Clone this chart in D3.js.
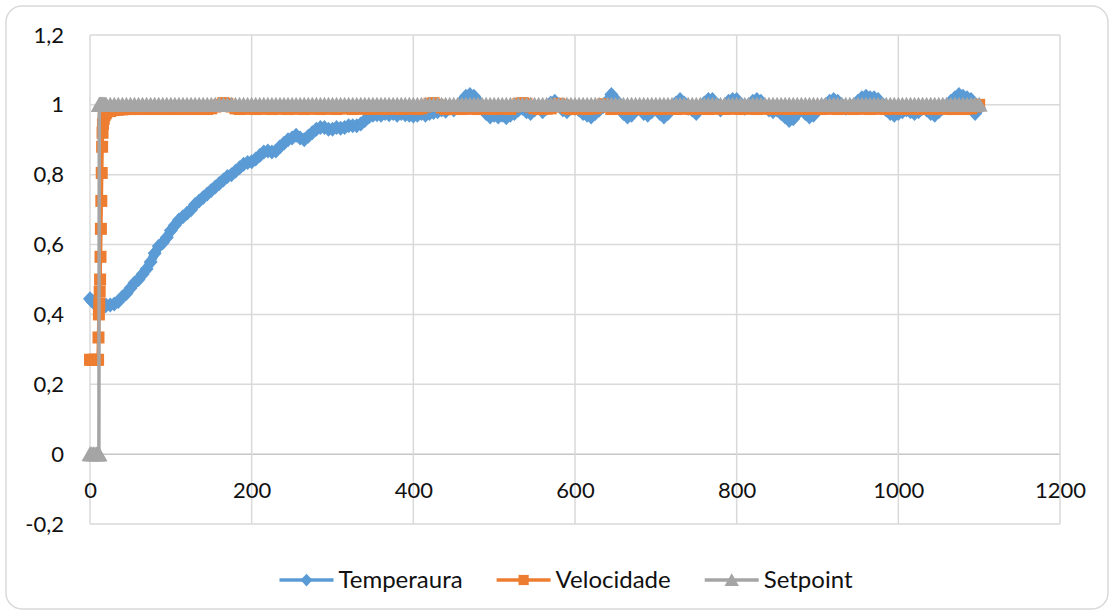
<!DOCTYPE html>
<html>
<head>
<meta charset="utf-8">
<script src="https://cdn.jsdelivr.net/npm/d3@7"></script>
<style>
  body { margin: 0; background: #fff; }
  text { font-family: Lato, "Open Sans", sans-serif; fill: #111; }
</style>
</head>
<body>
<div id="chart"></div>
<script>
// sample times: dense during the start-up transient, then every 5
const xEarly = [0,2,4,6,8,10,10.5,11,11.5,12,12.5,13,13.5,14,14.5,15,15.5,16,17,18,19,20];
const xs = xEarly.concat(d3.range(25, 1105, 5));

const temperaura = [
  0.445,0.44,0.435,0.432,0.43,0.428,0.428,0.427,0.427,0.426,0.426,0.425,0.425,0.425,0.425,0.425,0.425,0.425,0.425,0.425,0.425,0.426,
  0.427,0.43,0.437,0.45,0.46,0.475,0.49,0.50,0.515,0.53,
  0.55,0.575,0.595,0.605,0.62,0.64,0.655,0.67,0.68,0.69,
  0.70,0.715,0.725,0.735,0.745,0.755,0.765,0.775,0.785,0.795,
  0.80,0.81,0.82,0.83,0.835,0.837,0.845,0.855,0.865,0.868,
  0.865,0.868,0.88,0.89,0.90,0.905,0.913,0.905,0.90,0.91,
  0.92,0.93,0.935,0.935,0.93,0.93,0.935,0.933,0.935,0.94,
  0.94,0.94,0.945,0.955,0.965,0.97,0.972,0.97,0.975,0.972,
  0.975,0.97,0.975,0.972,0.97,0.968,0.97,0.975,0.97,0.975,
  0.978,0.98,0.985,0.982,0.99,0.985,0.995,1.01,1.025,1.03,
  1.025,1.01,0.99,0.975,0.965,0.97,0.965,0.97,0.963,0.97,
  0.975,0.985,0.99,0.98,0.975,0.985,0.995,0.98,0.99,1.005,
  1.01,1.0,0.985,0.98,0.99,0.99,0.985,0.975,0.97,0.965,
  0.975,0.985,0.995,1.01,1.03,1.015,0.99,0.975,0.965,0.97,
  0.985,0.99,0.975,0.97,0.98,0.995,0.975,0.965,0.975,0.99,
  1.005,1.015,1.005,0.99,0.985,0.975,0.99,1.005,1.015,1.015,
  1.0,0.985,0.995,1.01,1.015,1.015,1.0,0.99,1.0,1.01,
  1.015,1.01,0.995,0.985,0.98,0.985,0.975,0.965,0.955,0.96,
  0.975,0.99,0.975,0.965,0.97,0.985,0.995,1.0,1.01,1.015,
  1.01,1.0,0.99,0.995,1.0,1.01,1.02,1.025,1.02,1.02,
  1.015,1.0,0.985,0.975,0.97,0.975,0.98,0.985,0.98,0.975,
  0.98,0.99,0.985,0.975,0.97,0.98,0.99,1.0,1.01,1.02,
  1.03,1.025,1.02,1.015,0.975,0.99
];

const velocidade = [
  0.27,0.27,0.27,0.27,0.27,0.27,0.334,0.40,0.43,0.465,0.50,0.565,0.645,0.725,0.805,0.88,0.92,0.945,0.96,0.97,0.975,0.978,
  0.982,0.985,0.986,0.987,0.988,0.988,0.989,0.988,0.99,0.988,
  0.989,0.99,0.988,0.989,0.99,0.988,0.99,0.989,0.988,0.99,
  0.99,0.988,0.989,0.99,0.988,0.99,0.995,1.0,1.005,1.003,
  0.995,0.99,0.988,0.99,0.989,0.99,0.988,0.99,0.989,0.99,
  0.988,0.99,0.989,0.99,0.988,0.99,0.989,0.99,0.988,0.99,
  0.99,0.989,0.988,0.99,0.989,0.99,0.988,0.99,0.995,0.99,
  0.988,0.99,0.989,0.99,0.988,0.99,0.989,0.99,0.988,0.99,
  0.99,0.989,0.988,0.99,0.989,0.99,0.988,0.99,0.995,1.003,
  1.005,1.0,0.992,0.988,0.99,0.989,0.99,0.988,0.99,0.989,
  0.99,0.988,0.99,0.989,0.99,0.988,0.99,0.989,0.99,0.988,
  0.995,1.003,1.005,1.003,0.995,0.99,0.988,0.99,0.989,0.99,
  0.995,1.003,1.0,0.99,0.988,0.99,0.989,0.99,0.988,0.99,
  0.99,0.995,1.002,0.995,0.988,0.99,0.989,0.99,0.988,0.99,
  0.99,0.989,0.988,0.99,0.989,0.99,0.988,0.99,0.989,0.99,
  0.988,0.99,0.989,0.99,0.988,0.99,0.989,0.99,0.988,0.99,
  0.99,0.989,0.988,0.99,0.989,0.99,0.988,0.99,0.989,0.99,
  0.988,0.99,0.989,0.99,0.988,0.99,0.989,0.99,0.988,0.99,
  0.99,0.989,0.988,0.99,0.989,0.99,0.988,0.99,0.989,0.99,
  0.988,0.99,0.989,0.99,0.988,0.99,0.989,0.99,0.988,0.99,
  0.99,0.989,0.988,0.99,0.989,0.99,0.988,0.99,0.989,0.99,
  0.988,0.99,0.989,0.99,0.988,0.99,0.989,0.99,0.988,0.99,
  0.99,0.988,0.989,0.99,0.995,1.0
];

const setpoint = [
  0,0,0,0,0,0,0,0,1,1,1,1,1,1,1,1,1,1,1,1,1,1,
  1,1,1,1,1,1,1,1,1,1,
  1,1,1,1,1,1,1,1,1,1,
  1,1,1,1,1,1,1,1,1,1,
  1,1,1,1,1,1,1,1,1,1,
  1,1,1,1,1,1,1,1,1,1,
  1,1,1,1,1,1,1,1,1,1,
  1,1,1,1,1,1,1,1,1,1,
  1,1,1,1,1,1,1,1,1,1,
  1,1,1,1,1,1,1,1,1,1,
  1,1,1,1,1,1,1,1,1,1,
  1,1,1,1,1,1,1,1,1,1,
  1,1,1,1,1,1,1,1,1,1,
  1,1,1,1,1,1,1,1,1,1,
  1,1,1,1,1,1,1,1,1,1,
  1,1,1,1,1,1,1,1,1,1,
  1,1,1,1,1,1,1,1,1,1,
  1,1,1,1,1,1,1,1,1,1,
  1,1,1,1,1,1,1,1,1,1,
  1,1,1,1,1,1,1,1,1,1,
  1,1,1,1,1,1,1,1,1,1,
  1,1,1,1,1,1,1,1,1,1,
  1,1,1,1,1,1
];

const seriesNames = ["Temperaura", "Velocidade", "Setpoint"];
const seriesColors = ["#5b9bd5", "#ed7d31", "#a5a5a5"];
const seriesShapes = ["diamond", "square", "triangle"];

const xTicks = [0, 200, 400, 600, 800, 1000, 1200];
const yTicks = [-0.2, 0, 0.2, 0.4, 0.6, 0.8, 1, 1.2];
const yTickLabels = ["-0,2", "0", "0,2", "0,4", "0,6", "0,8", "1", "1,2"];

const width = 1112, height = 614;
const plot = { left: 90, right: 1060, top: 35, bottom: 524 };

const svg = d3.select("#chart").append("svg")
  .attr("width", width)
  .attr("height", height);

// chart border
svg.append("rect")
  .attr("x", 6).attr("y", 6)
  .attr("width", 1102).attr("height", 603)
  .attr("rx", 16)
  .attr("fill", "#fff")
  .attr("stroke", "#d9d9d9")
  .attr("stroke-width", 1.5);

const xScale = d3.scaleLinear().domain([0, 1200]).range([plot.left, plot.right]);
const yScale = d3.scaleLinear().domain([-0.2, 1.2]).range([plot.bottom, plot.top]);

// gridlines
svg.append("g").selectAll("line").data(yTicks).enter().append("line")
  .attr("x1", plot.left).attr("x2", plot.right)
  .attr("y1", d => yScale(d)).attr("y2", d => yScale(d))
  .attr("stroke", d => d === 0 ? "#c6c6c6" : "#d9d9d9")
  .attr("stroke-width", 1.5);

svg.append("g").selectAll("line").data(xTicks).enter().append("line")
  .attr("x1", d => xScale(d)).attr("x2", d => xScale(d))
  .attr("y1", plot.top).attr("y2", plot.bottom)
  .attr("stroke", "#d9d9d9")
  .attr("stroke-width", 1.5);

// axes (labels only)
const xAxis = d3.axisBottom(xScale).tickValues(xTicks).tickSize(0).tickPadding(28)
  .tickFormat(d3.format("d"));
svg.append("g")
  .attr("transform", `translate(0,${yScale(0)})`)
  .call(xAxis)
  .call(g => g.select(".domain").remove())
  .selectAll("text")
  .attr("font-size", 22)
  .attr("font-family", "Lato, sans-serif")
  .attr("fill", "#111");

const yAxis = d3.axisLeft(yScale).tickValues(yTicks).tickSize(0).tickPadding(26)
  .tickFormat((d, i) => yTickLabels[i]);
svg.append("g")
  .attr("transform", `translate(${plot.left},0)`)
  .call(yAxis)
  .call(g => g.select(".domain").remove())
  .selectAll("text")
  .attr("font-size", 22)
  .attr("font-family", "Lato, sans-serif")
  .attr("fill", "#111");

function markerPath(shape, k) {
  k = k || 1;
  if (shape === "diamond") return `M0,${-7.5*k}L${7*k},0L0,${7.5*k}L${-7*k},0Z`;
  if (shape === "square") return `M${-6*k},${-6*k}H${6*k}V${6*k}H${-6*k}Z`;
  return `M0,${-8*k}L${8.5*k},${7*k}L${-8.5*k},${7*k}Z`;
}

const allSeries = [temperaura, velocidade, setpoint];
const lineWidths = [9, 3.5, 3.5];

const line = d3.line()
  .x(d => xScale(d[0]))
  .y(d => yScale(d[1]));

allSeries.forEach((vals, s) => {
  const pts = xs.map((x, i) => [x, vals[i]]);
  const g = svg.append("g").attr("class", "series");
  g.append("path")
    .attr("d", line(pts))
    .attr("fill", "none")
    .attr("stroke", seriesColors[s])
    .attr("stroke-width", lineWidths[s])
    .attr("stroke-linejoin", "round")
    .attr("stroke-linecap", "round");
  g.selectAll("path.m").data(pts).enter().append("path")
    .attr("class", "m")
    .attr("d", markerPath(seriesShapes[s]))
    .attr("transform", d => `translate(${xScale(d[0])},${yScale(d[1])})`)
    .attr("fill", seriesColors[s]);
});

// legend, laid out from text widths and centred under the chart
const legendLine = 54, legendGap = 5, legendSpace = 34;
const legend = svg.append("g");
let cursor = 0;
seriesNames.forEach((name, s) => {
  const lg = legend.append("g").attr("transform", `translate(${cursor},0)`);
  lg.append("line")
    .attr("x1", 0).attr("x2", legendLine)
    .attr("stroke", seriesColors[s])
    .attr("stroke-width", 3.5);
  lg.append("path")
    .attr("d", markerPath(seriesShapes[s], 0.85))
    .attr("transform", `translate(${legendLine / 2},0)`)
    .attr("fill", seriesColors[s]);
  const t = lg.append("text")
    .attr("x", legendLine + legendGap).attr("y", 0)
    .attr("dy", "0.35em")
    .attr("font-size", 24)
    .text(name);
  cursor += legendLine + legendGap + t.node().getComputedTextLength() + legendSpace;
});
const legendWidth = cursor - legendSpace;
legend.attr("transform", `translate(${566 - legendWidth / 2},580)`);
</script>
</body>
</html>
